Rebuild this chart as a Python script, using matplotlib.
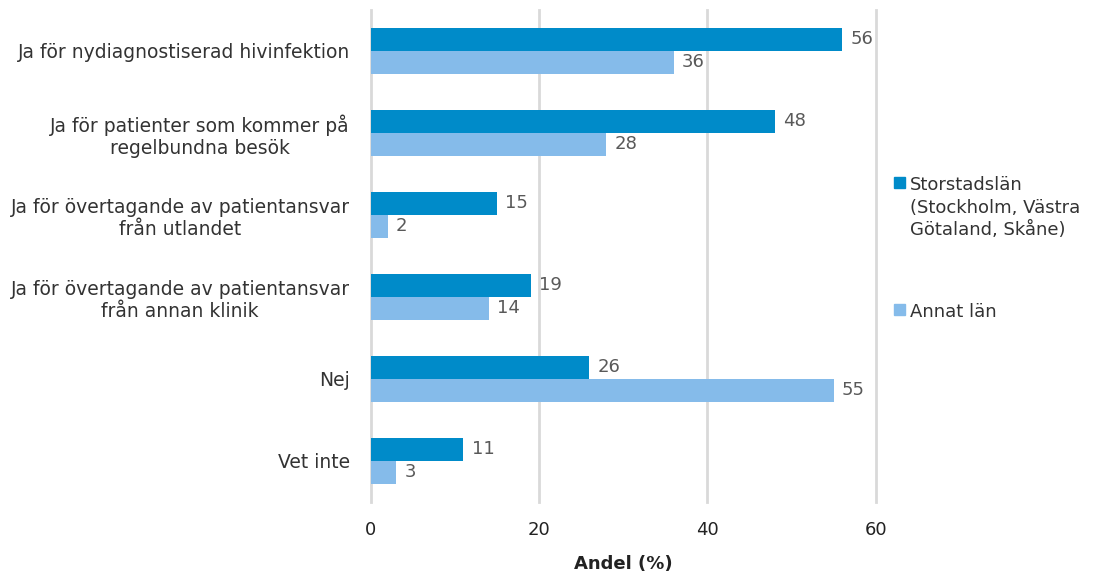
import numpy as np
import matplotlib.pyplot as plt
from matplotlib.patches import Rectangle

categories = ['Ja för nydiagnostiserad hivinfektion',
              'Ja för patienter som kommer på\nregelbundna besök',
              'Ja för övertagande av patientansvar\nfrån utlandet',
              'Ja för övertagande av patientansvar\nfrån annan klinik',
              'Nej',
              'Vet inte']
storstad = [56, 48, 15, 19, 26, 11]
annat = [36, 28, 2, 14, 55, 3]
series_names = ['Storstadslän\n(Stockholm, Västra\nGötaland, Skåne)', 'Annat län']

dark = '#008BC9'
light = '#85BBEA'
textcol = '#333333'
fs = 13

fig = plt.figure(figsize=(11, 5.75), dpi=100)
ax = fig.add_axes([0.337, 0.127, 0.459, 0.856])

y = np.arange(len(categories))
h = 0.28
b1 = ax.barh(y - h/2, storstad, h, color=dark, zorder=3)
b2 = ax.barh(y + h/2, annat, h, color=light, zorder=3)
ax.bar_label(b1, padding=6, fontsize=fs, color='#595959')
ax.bar_label(b2, padding=6, fontsize=fs, color='#595959')

ax.set_ylim(len(categories) - 0.5, -0.5)
ax.set_xlim(0, 60)
ax.set_xticks([0, 20, 40, 60])
ax.set_yticks(y, categories, fontsize=13.5, color=textcol)
for t in ax.get_yticklabels():
    t.set_multialignment('center')
ax.tick_params(axis='y', length=0, pad=15)
ax.tick_params(axis='x', length=0, pad=14, labelsize=fs, labelcolor='#222222')
for s in ax.spines.values():
    s.set_visible(False)
ax.grid(axis='x', color='#d9d9d9', linewidth=2, zorder=0)
for gl in ax.get_xgridlines():
    gl.set_clip_on(False)
ax.set_xlabel('Andel (%)', fontsize=fs, fontweight='bold', color='#222222', labelpad=11)

# legend drawn by hand so the square sits at the first line
for (name, col, ytop) in [(series_names[0], dark, 176), (series_names[1], light, 303)]:
    fig.patches.append(Rectangle((894/1100, 1 - (ytop + 12)/575), 11/1100, 11/575,
                                 transform=fig.transFigure, color=col))
    fig.text(910/1100, 1 - ytop/575, name, fontsize=fs, color=textcol,
             va='top', ha='left', linespacing=1.33)

plt.savefig('out.png')
